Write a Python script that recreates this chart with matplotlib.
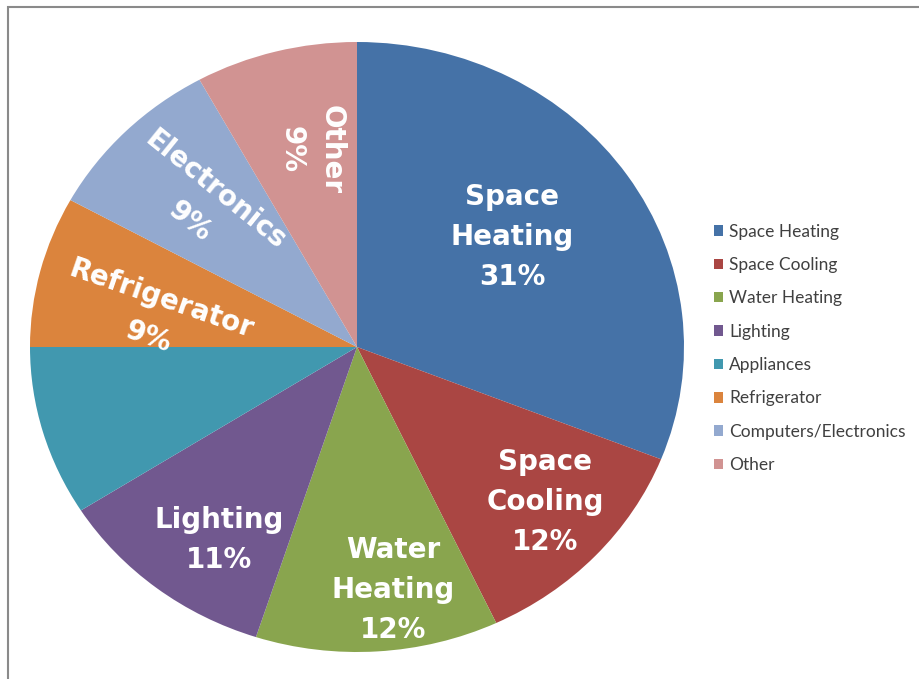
import matplotlib.pyplot as plt
from matplotlib.patches import Patch, Rectangle

# Household energy use by end use
categories = ["Space Heating", "Space Cooling", "Water Heating", "Lighting",
              "Appliances", "Refrigerator", "Computers/Electronics", "Other"]
shares = [31, 12, 12, 11, 9, 8, 9, 8]
colors = ["#4572A7", "#AA4643", "#89A54E", "#71588F",
          "#4198AF", "#DB843D", "#93A9CF", "#D19392"]

# slice labels (Appliances has none in the original)
slice_labels = ["Space\nHeating\n31%", "Space\nCooling\n12%", "Water\nHeating\n12%",
                "Lighting\n11%", "", "Refrigerator\n9%", "Electronics\n9%", "Other\n9%"]
label_xy = [(0.474, 0.361), (0.575, -0.508), (0.110, -0.797), (-0.422, -0.633),
            None, (-0.618, 0.095), (-0.471, 0.462), (-0.138, 0.646)]
label_rot = [0, 0, 0, 0, 0, -19, -39, -90]

fig = plt.figure(figsize=(9.2, 6.79), dpi=100)

# grey chart frame (cut off at right and bottom like the screenshot)
fig.patches.append(Rectangle((8 / 920, -0.1), 1.2, 1 - 7 / 679 + 0.1,
                             transform=fig.transFigure, fill=False,
                             edgecolor="#8a8a8a", linewidth=1.5))

ax = fig.add_axes([30 / 920, 27 / 679, 654 / 920, 610 / 679])
wedges, _ = ax.pie(shares, colors=colors, startangle=90, counterclock=False,
                   radius=1, wedgeprops=dict(linewidth=0))
ax.set_aspect("auto")
ax.set_xlim(-1, 1)
ax.set_ylim(-1, 1)
ax.axis("off")

for txt, xy, rot in zip(slice_labels, label_xy, label_rot):
    if not txt:
        continue
    ax.text(xy[0], xy[1], txt, ha="center", va="center", rotation=rot,
            rotation_mode="anchor", multialignment="center", linespacing=1.55,
            color="white", fontsize=20, fontweight="bold",
            family="DejaVu Sans")

handles = [Patch(facecolor=c, edgecolor="none") for c in colors]
fig.legend(handles, categories, loc="upper left",
           bbox_to_anchor=(698 / 920, 1 - 208 / 679),
           frameon=False, handlelength=0.55, handleheight=0.55,
           handletextpad=0.35, labelspacing=1.0,
           prop={"family": "Lato", "size": 12.5}, labelcolor="#404040")

fig.savefig("out.png", dpi=100)
